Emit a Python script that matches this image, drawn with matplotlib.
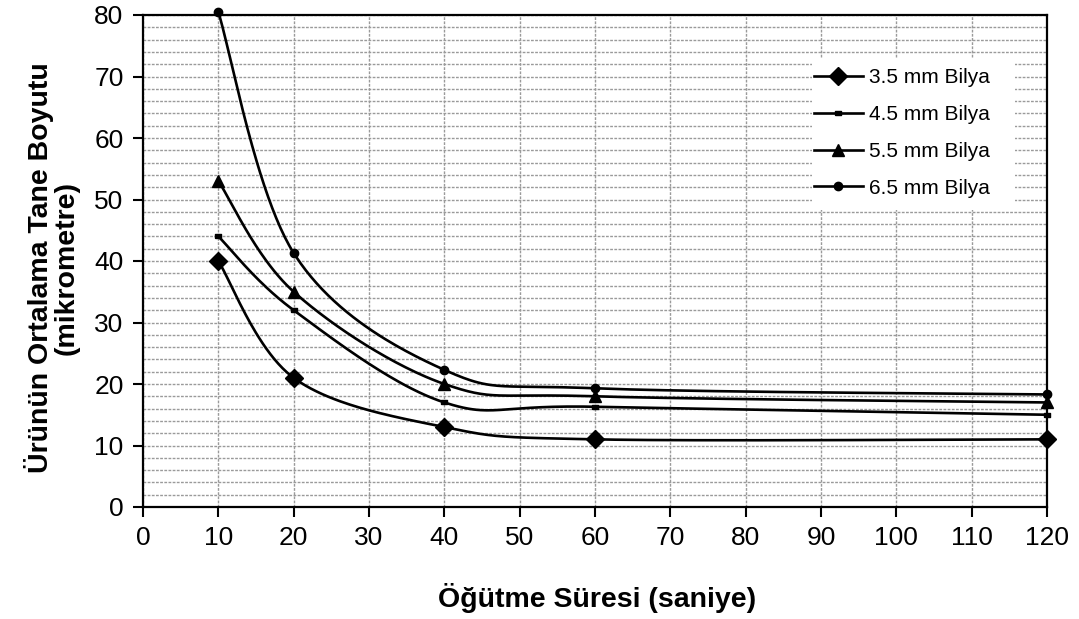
import numpy as np
import matplotlib
matplotlib.use("Agg")
import matplotlib.pyplot as plt
from matplotlib.ticker import MultipleLocator
from matplotlib.patches import Rectangle

plt.rcParams['font.family'] = ['Liberation Sans', 'DejaVu Sans']

x = [10, 20, 40, 60, 120]
s35 = [40, 21, 13, 11, 11]
s45 = [44, 32, 17, 16.3, 15]
s55 = [53, 35, 20, 18, 17]
s65 = [80.5, 41.3, 22.3, 19.3, 18.3]
labels = ["3.5 mm Bilya", "4.5 mm Bilya", "5.5 mm Bilya", "6.5 mm Bilya"]
dash = [(-1, -0.45), (1, -0.45), (1, 0.45), (-1, 0.45), (-1, -0.45)]
markers = ["D", dash, "^", "o"]
msizes = [9, 5, 8, 6]
xticks = list(range(0, 121, 10))
yticks = list(range(0, 81, 10))

W, H = 1079, 619
L, R, T, B = 143, 1047, 15, 507


def smooth(xs, ys, n=50):
    P = np.column_stack([xs, ys]).astype(float)
    out = []
    for i in range(len(P) - 1):
        p0 = P[i - 1] if i > 0 else P[i]
        p1 = P[i]
        p2 = P[i + 1]
        p3 = P[i + 2] if i + 2 < len(P) else P[i + 1]
        c1 = p1 + (p2 - p0) / 6
        c2 = p2 - (p3 - p1) / 6
        t = np.linspace(0, 1, n)[:, None]
        seg = ((1 - t) ** 3) * p1 + 3 * ((1 - t) ** 2) * t * c1 + 3 * (1 - t) * t ** 2 * c2 + t ** 3 * p2
        out.append(seg if i == 0 else seg[1:])
    seg = np.vstack(out)
    return seg[:, 0], seg[:, 1]


fig = plt.figure(figsize=(W / 100, H / 100), dpi=100)
ax = fig.add_axes([L / W, 1 - B / H, (R - L) / W, (B - T) / H])

for ys, lab, m, ms in zip([s35, s45, s55, s65], labels, markers, msizes):
    sx, sy = smooth(x, ys)
    ax.plot(sx, sy, color='black', lw=1.9, zorder=3, clip_on=False)
    ax.plot(x, ys, linestyle='none', marker=m, ms=ms, color='black', zorder=4, clip_on=False)
    ax.plot([], [], color='black', lw=1.9, marker=m, ms=ms, label=lab)

ax.set_xlim(0, 120)
ax.set_ylim(0, 80)
ax.set_xticks(xticks)
ax.set_yticks(yticks)
ax.yaxis.set_minor_locator(MultipleLocator(2))
ax.grid(which='major', axis='both', color='#9a9a9a', lw=1.0, linestyle=(0, (2, 1)))
ax.grid(which='minor', axis='y', color='#9a9a9a', lw=1.0, linestyle=(0, (2, 1)))
ax.tick_params(which='minor', length=0)
ax.tick_params(which='major', direction='out', length=7, width=1.5, labelsize=19, pad=7)
for sp in ax.spines.values():
    sp.set_linewidth(1.6)
ax.set_axisbelow(True)

fig.text(597 / W, 1 - 598 / H, "Öğütme Süresi (saniye)", fontsize=20.5, fontweight='bold',
         ha='center', va='center')
fig.text(52 / W, 1 - 268 / H, "Ürünün Ortalama Tane Boyutu\n(mikrometre)", fontsize=20.5,
         fontweight='bold', rotation=90, ha='center', va='center', multialignment='center',
         linespacing=0.95)

# white legend area
ax.add_patch(Rectangle(((812 - L) / (R - L), 1 - (210 - T) / (B - T)),
                       (1015 - 812) / (R - L), (210 - 58) / (B - T),
                       transform=ax.transAxes, facecolor='white', edgecolor='none', zorder=1))

leg = ax.legend(loc='upper left', bbox_to_anchor=((814 - L) / (R - L), 1 - (68 - T) / (B - T)),
                frameon=False, fontsize=15, handlelength=2.35, labelspacing=0.86,
                borderpad=0, borderaxespad=0, handletextpad=0.3)
leg.set_zorder(5)

fig.savefig("out.png", dpi=100)
